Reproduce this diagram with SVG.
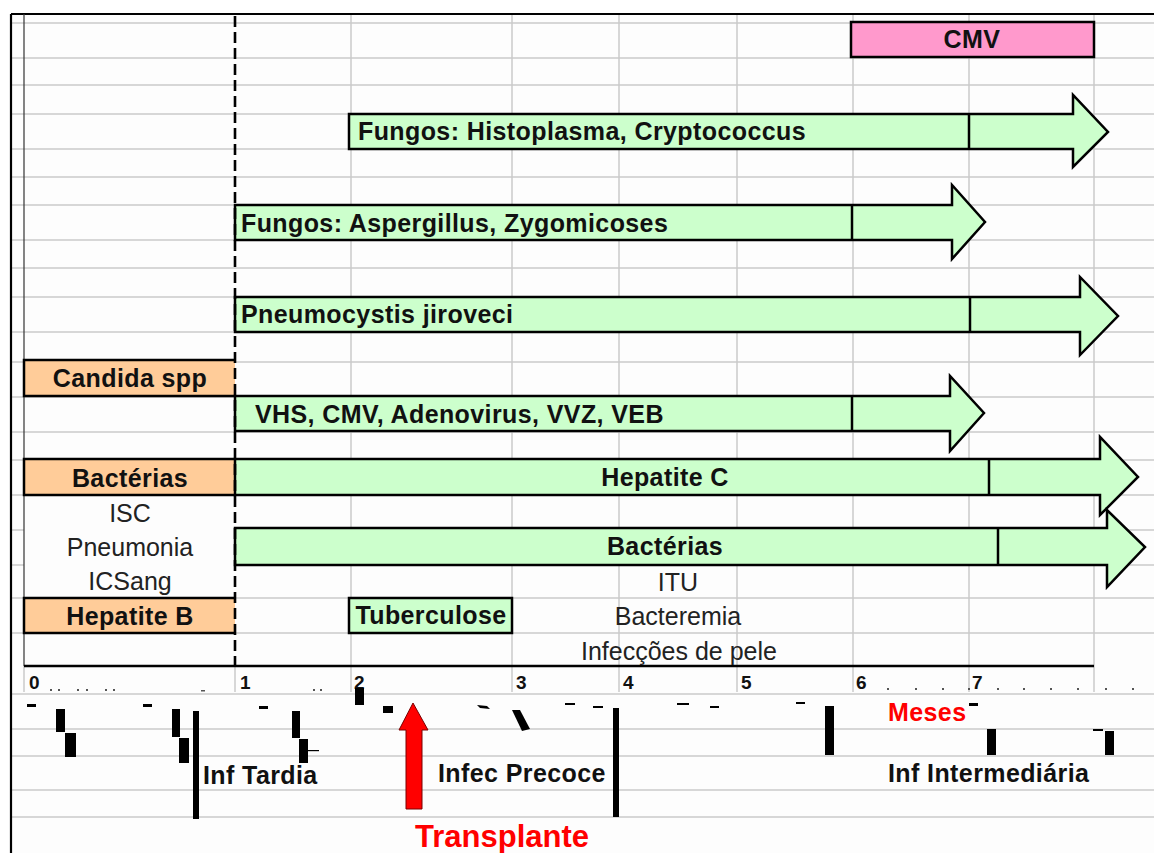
<svg xmlns="http://www.w3.org/2000/svg" width="1154" height="853" viewBox="0 0 1154 853">
<style>
.grid{stroke:#CACACA;stroke-width:1.5;fill:none}
.box{stroke:#000;stroke-width:2.5}
.green{fill:#CCFFCC}
.orange{fill:#FFCC99}
.pink{fill:#FF99CC}
.b{font-family:"Liberation Sans",Arial,sans-serif;font-weight:bold;font-size:25px;letter-spacing:0.4px;fill:#111}
.r{font-family:"Liberation Sans",Arial,sans-serif;font-size:25px;fill:#222}
.m{font-family:"Liberation Sans",Arial,sans-serif;font-weight:bold;font-size:19px;fill:#111}
.c{text-anchor:middle}
.div{stroke:#000;stroke-width:2.5}
.junk{fill:#000}
</style>
<rect width="1154" height="853" fill="#fff"/>
<rect x="11" y="14" width="1143" height="839" fill="#FDFDFD"/>
<g id="grid">
<path class="grid" d="M11,23H1154M11,58H1154M11,85H1154M11,114H1154M11,149H1154M11,177H1154M11,205H1154M11,240H1154M11,268H1154M11,297H1154M11,332H1154M11,362H1154M11,397H1154M11,432H1154M11,460H1154M11,495H1154M11,530H24M235,530H1154M11,565H24M235,565H1154M11,598H1154M11,633H1154"/>
<path class="grid" d="M351,14V692M512,14V692M619,14V692M737,14V692M853,14V692M969,14V692M1094,14V692M24,666V692M235,666V692"/>
<path class="grid" d="M11,694H1154M11,729H1154M11,756H1154M11,790H1154M11,817H1154"/>
</g>
<g id="frame">
<path d="M11,14H1154M11,14V853" stroke="#000" stroke-width="2.2" fill="none"/>
<path d="M24,14V666" stroke="#333" stroke-width="1.2"/>
<path d="M24,666H1094" stroke="#000" stroke-width="2.5"/>
</g>
<g id="cmv">
<rect class="box pink" x="851" y="22" width="243" height="35"/>
<text class="b c" x="972" y="48">CMV</text>
</g>
<g id="fungos-histoplasma">
<path class="box green" d="M349,114H1073V95L1108,132L1073,167V149H349Z"/>
<path class="div" d="M969,114V149"/>
<text class="b" x="358" y="140">Fungos: Histoplasma, Cryptococcus</text>
</g>
<g id="fungos-aspergillus">
<path class="box green" d="M235,205H952V185L985,222L952,259V240H235Z"/>
<path class="div" d="M852,205V240"/>
<text class="b" x="241" y="232">Fungos: Aspergillus, Zygomicoses</text>
</g>
<g id="pneumocystis">
<path class="box green" d="M235,297H1080V277L1118,316L1080,355V332H235Z"/>
<path class="div" d="M970,297V332"/>
<text class="b" x="241" y="323">Pneumocystis jiroveci</text>
</g>
<g id="candida">
<path class="box orange" d="M235,360H24V396H235"/>
<text class="b c" x="130" y="387">Candida spp</text>
</g>
<g id="virus">
<path class="box green" d="M235,396H950V376L984,413L950,451V431H235Z"/>
<path class="div" d="M852,396V431"/>
<text class="b" x="255" y="423">VHS, CMV, Adenovirus, VVZ, VEB</text>
</g>
<g id="bacterias-precoce">
<path class="box orange" d="M235,459H24V495H235"/>
<text class="b c" x="130" y="487">Bactérias</text>
</g>
<g id="hepatite-c">
<path class="box green" d="M235,459H1100V437L1138,477L1100,515V495H235Z"/>
<path class="div" d="M989,459V495"/>
<text class="b c" x="665" y="486">Hepatite C</text>
</g>
<g id="bacterias-tardia">
<path class="box green" d="M235,528H1107V510L1145,547L1107,587V565H235Z"/>
<path class="div" d="M998,528V565"/>
<text class="b c" x="665" y="555">Bactérias</text>
</g>
<g id="bacterias-precoce-list">
<text class="r c" x="130" y="522">ISC</text>
<text class="r c" x="130" y="556">Pneumonia</text>
<text class="r c" x="130" y="590">ICSang</text>
</g>
<g id="hepatite-b">
<path class="box orange" d="M235,598H24V633H235"/>
<text class="b c" x="130" y="625">Hepatite B</text>
</g>
<g id="tuberculose">
<rect class="box green" x="349" y="598" width="163" height="35"/>
<text class="b c" x="431" y="624">Tuberculose</text>
</g>
<g id="bacterias-tardia-list">
<text class="r c" x="678" y="591">ITU</text>
<text class="r c" x="678" y="625">Bacteremia</text>
<text class="r c" x="679" y="660">Infecções de pele</text>
</g>
<g id="month-one-line">
<path d="M235,16V666" stroke="#000" stroke-width="2.6" stroke-dasharray="11 5"/>
</g>
<g id="axis-labels">
<text class="m" x="29" y="689">0</text>
<text class="m" x="240" y="689">1</text>
<text class="m" x="354" y="689">2</text>
<text class="m" x="516" y="689">3</text>
<text class="m" x="623" y="689">4</text>
<text class="m" x="741" y="689">5</text>
<text class="m" x="856" y="689">6</text>
<text class="m" x="972" y="689">7</text>
<text class="b" x="888" y="721" style="fill:#FF0000">Meses</text>
</g>
<g id="axis-artifacts" class="junk">
<rect x="27" y="704" width="9" height="3"/><rect x="56" y="709" width="9" height="23"/><rect x="65" y="733" width="11" height="24"/>
<rect x="143" y="704" width="9" height="3"/><rect x="172" y="709" width="8" height="28"/><rect x="179" y="738" width="10" height="25"/>
<rect x="259" y="706" width="9" height="3"/><rect x="292" y="711" width="8" height="27"/><rect x="299" y="739" width="9" height="24"/><rect x="305" y="750" width="14" height="1.2"/>
<rect x="355" y="688" width="9" height="17"/><rect x="383" y="706" width="10" height="7"/>
<path d="M477,705L487,706L490,709L480,708Z"/><path d="M512,710L520,710L530,729L522,731Z"/>
<rect x="565" y="703" width="10" height="2"/><rect x="593" y="706" width="10" height="2"/>
<rect x="677" y="703" width="12" height="2"/><rect x="710" y="706" width="9" height="2"/>
<rect x="796" y="702" width="9" height="2"/><rect x="825" y="706" width="9" height="49"/>
<rect x="969" y="703" width="9" height="3"/><rect x="987" y="729" width="9" height="26"/>
<rect x="1093" y="729" width="10" height="2"/><rect x="1105" y="731" width="9" height="24"/>
<rect x="193" y="711" width="6" height="108"/>
<rect x="613" y="708" width="6" height="109"/>
</g>
<g id="axis-dots" fill="#555">
<rect x="50" y="689" width="2" height="2"/><rect x="58" y="689" width="2" height="2"/><rect x="77" y="689" width="2" height="2"/><rect x="86" y="689" width="2" height="2"/><rect x="105" y="689" width="2" height="2"/><rect x="113" y="689" width="2" height="2"/><rect x="201" y="690" width="4" height="1.5"/><rect x="313" y="689" width="2" height="2"/><rect x="320" y="689" width="2" height="2"/>
<rect x="887" y="688" width="2" height="2"/><rect x="915" y="688" width="2" height="2"/><rect x="942" y="688" width="2" height="2"/><rect x="968" y="688" width="2" height="2"/><rect x="997" y="688" width="2" height="2"/><rect x="1023" y="688" width="2" height="2"/><rect x="1050" y="688" width="2" height="2"/><rect x="1077" y="688" width="2" height="2"/><rect x="1105" y="688" width="2" height="2"/><rect x="1132" y="688" width="2" height="2"/>
</g>
<g id="periods">
<text class="b" x="203" y="784">Inf Tardia</text>
<text class="b" x="438" y="782">Infec Precoce</text>
<text class="b" x="888" y="782">Inf Intermediária</text>
</g>
<g id="connectors">
<path d="M413,703L428,730H422V809H406V730H399Z" fill="#FF0000" stroke="#7a0000" stroke-width="1"/>
</g>
<g id="transplante">
<text x="415" y="847" style="font-family:'Liberation Sans',Arial,sans-serif;font-weight:bold;font-size:31px;fill:#FF0000">Transplante</text>
</g>
</svg>
